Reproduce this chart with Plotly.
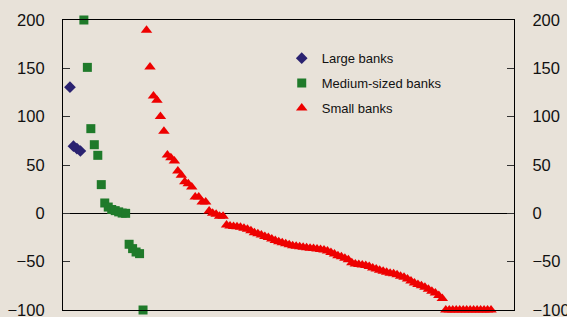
import plotly.graph_objects as go

# Values (per cent), banks ranked within each group
large_banks = [130.5, 69.5, 67, 64.5]
medium_banks = [200, 151, 87.6, 71, 60, 29.7, 10.7, 6.5, 4, 2.8, 1.5, 0.3, 0,
                -32, -36.5, -40, -41.7, -100]
small_banks = [189.5, 151.3, 121.3, 116.9, 100.3, 84.8, 60.3, 57.6, 54.1, 43.8,
               39.3, 32.8, 30.7, 27.2, 16.9, 16.9, 11.7, 11.7, 2.4, 0, -1, -3,
               -3, -12, -13, -13.5, -14, -14.5, -15.5, -16.5, -18, -20, -21,
               -22.5, -24, -25, -26.5, -28, -29.5, -30.5, -31.5, -32.5, -33.5,
               -34, -34.5, -35, -35.5, -36, -36.5, -37, -37.5, -38, -39, -40.5,
               -42, -44, -45, -46.5, -48, -51, -52.5, -53, -53.5, -54, -55,
               -56.5, -57.5, -59, -60, -61, -62, -62.5, -63.5, -65, -66, -68,
               -70, -72, -73.5, -75, -76.5, -78.5, -80.5, -82.5, -85, -88,
               -100, -100, -100, -100, -100, -100, -100, -100, -100, -100,
               -100, -100, -100, -100]
y_ticks = [-100, -50, 0, 50, 100, 150, 200]

n_l, n_m, n_s = len(large_banks), len(medium_banks), len(small_banks)
x_large = list(range(0, n_l))
x_medium = list(range(n_l, n_l + n_m))
x_small = list(range(n_l + n_m, n_l + n_m + n_s))

FONT = "Liberation Sans, Arial, sans-serif"
BG = "#E8E2D9"

fig = go.Figure()
fig.add_trace(go.Scatter(x=x_large, y=large_banks, mode="markers", name="Large banks",
                         legendgroup="a",
                         marker=dict(symbol="diamond", size=9, color="#2A2270"),
                         cliponaxis=False))
fig.add_trace(go.Scatter(x=x_medium, y=medium_banks, mode="markers", name="Medium-sized banks",
                         legendgroup="b",
                         marker=dict(symbol="square", size=9, color="#1F7A2A"),
                         cliponaxis=False))
fig.add_trace(go.Scatter(x=x_small, y=small_banks, mode="markers", name="Small banks",
                         legendgroup="c",
                         marker=dict(symbol="triangle-up", size=10, color="#EE0000"),
                         cliponaxis=False))
fig.add_trace(go.Scatter(x=[], y=[], yaxis="y2", showlegend=False, hoverinfo="skip"))

yax = dict(range=[-100, 200], tickvals=y_ticks, ticks="inside", ticklen=7,
           tickcolor="#333333", tickwidth=1, showgrid=False, showline=True,
           linecolor="#000000", linewidth=1.2,
           tickfont=dict(family=FONT, size=16.5, color="#111111"),
           ticklabelstandoff=14, ticklabeloverflow="allow", automargin=False,
           fixedrange=True)

fig.update_layout(
    width=567, height=317,
    margin=dict(l=63, r=53, t=20, b=7, autoexpand=False),
    paper_bgcolor=BG, plot_bgcolor=BG,
    showlegend=True,
    xaxis=dict(range=[-2.0, 127.6], showticklabels=False, ticks="", showgrid=False,
               zeroline=False, showline=True, mirror=True, linecolor="#000000",
               linewidth=1.2, fixedrange=True, automargin=False),
    yaxis=dict(**yax, zeroline=True, zerolinecolor="#000000", zerolinewidth=1.3),
    yaxis2=dict(**yax, overlaying="y", side="right", zeroline=False),
    legend=dict(x=0.485, y=0.92, xanchor="left", yanchor="top",
                bgcolor="rgba(0,0,0,0)", tracegroupgap=5,
                font=dict(family=FONT, size=13, color="#111111")),
)

fig.write_html(
    "out.html",
    config={"displayModeBar": False},
    post_script="document.body.style.margin='0';document.body.style.background='%s';" % BG,
)
